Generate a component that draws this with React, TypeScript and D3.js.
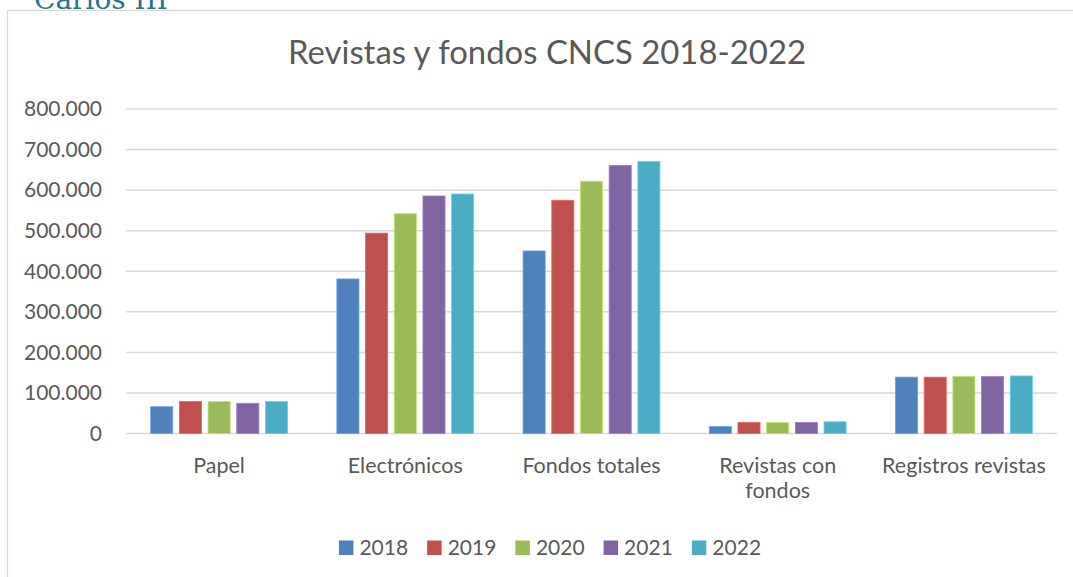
import React, { useEffect, useRef } from "react";
import * as d3 from "d3";

// Data
const categories = ["Papel", "Electrónicos", "Fondos totales", "Revistas con fondos", "Registros revistas"];
const categoryLines = [["Papel"], ["Electrónicos"], ["Fondos totales"], ["Revistas con", "fondos"], ["Registros revistas"]];
const years = ["2018", "2019", "2020", "2021", "2022"];
const values2018 = [66000, 381000, 450000, 17000, 139000];
const values2019 = [79000, 494000, 575000, 27000, 139000];
const values2020 = [79000, 542000, 622000, 27000, 140500];
const values2021 = [74500, 585500, 661000, 27000, 140500];
const values2022 = [79000, 590500, 671000, 29000, 142000];
const yTicks = [0, 100000, 200000, 300000, 400000, 500000, 600000, 700000, 800000];
const colors = ["#4F81BD", "#C0504D", "#9BBB59", "#8064A2", "#4BACC6"];

const seriesValues = [values2018, values2019, values2020, values2021, values2022];

const W = 1073;
const H = 577;
const FONT = "Lato, 'Open Sans', sans-serif";
const TEXT = "#595959";

export default function App() {
  const svgRef = useRef<SVGSVGElement>(null);

  useEffect(() => {
    const svg = d3.select(svgRef.current);
    svg.selectAll("*").remove();

    // logo text above the chart frame, cropped by the page top as in the source
    svg
      .append("text")
      .attr("x", 34)
      .attr("y", 9)
      .attr("font-family", "'DejaVu Serif', serif")
      .attr("font-size", 28)
      .attr("fill", "#2b7189")
      .text("Carlos III");

    // chart frame
    svg
      .append("rect")
      .attr("x", 7.5)
      .attr("y", 10.5)
      .attr("width", W + 20)
      .attr("height", H + 20)
      .attr("fill", "#fff")
      .attr("stroke", "#d9d9d9")
      .attr("stroke-width", 1.3);

    // title
    svg
      .append("text")
      .attr("x", 547)
      .attr("y", 64)
      .attr("text-anchor", "middle")
      .attr("font-family", FONT)
      .attr("font-size", 32.9)
      .attr("fill", TEXT)
      .text("Revistas y fondos CNCS 2018-2022");

    const left = 126;
    const right = 1057;
    const y = d3.scaleLinear().domain([0, 800000]).range([433.5, 109]);

    const x0 = d3
      .scaleBand()
      .domain(categories)
      .range([left, right])
      .paddingInner(0.265)
      .paddingOuter(0.1325);

    const x1 = d3
      .scaleBand()
      .domain(years)
      .range([0, x0.bandwidth()])
      .paddingInner(0.23);

    const fmt = (v: number) => (v === 0 ? "0" : d3.format(",")(v).replace(/,/g, "."));

    // gridlines
    svg
      .append("g")
      .selectAll("line")
      .data(yTicks)
      .enter()
      .append("line")
      .attr("x1", left)
      .attr("x2", right)
      .attr("y1", (d) => y(d))
      .attr("y2", (d) => y(d))
      .attr("stroke", "#d9d9d9")
      .attr("stroke-width", 1.5);

    // y labels
    svg
      .append("g")
      .selectAll("text")
      .data(yTicks)
      .enter()
      .append("text")
      .attr("x", 102)
      .attr("y", (d) => y(d))
      .attr("dy", "0.35em")
      .attr("text-anchor", "end")
      .attr("font-family", FONT)
      .attr("font-size", 21)
      .attr("fill", TEXT)
      .text((d) => fmt(d));

    // bars
    const groups = svg
      .append("g")
      .selectAll("g")
      .data(categories)
      .enter()
      .append("g")
      .attr("transform", (d) => `translate(${x0(d)},0)`);

    groups
      .selectAll("rect")
      .data((c, ci) => years.map((yr, si) => ({ yr, si, v: seriesValues[si][ci] })))
      .enter()
      .append("rect")
      .attr("x", (d) => x1(d.yr)!)
      .attr("width", x1.bandwidth())
      .attr("y", (d) => y(d.v))
      .attr("height", (d) => y(0) - y(d.v))
      .attr("fill", (d) => colors[d.si])
      .attr("stroke", (d) => d3.color(colors[d.si])!.brighter(0.6).formatHex())
      .attr("stroke-width", 0.8);

    // category labels
    categories.forEach((c, i) => {
      const t = svg
        .append("text")
        .attr("text-anchor", "middle")
        .attr("font-family", FONT)
        .attr("font-size", 21.5)
        .attr("fill", TEXT);
      categoryLines[i].forEach((line, li) => {
        t.append("tspan")
          .attr("x", x0(c)! + x0.bandwidth() / 2)
          .attr("y", 472.5 + li * 25.5)
          .text(line);
      });
    });

    // legend
    const legend = svg.append("g");
    let cx = 0;
    years.forEach((yr, i) => {
      const g = legend.append("g").attr("transform", `translate(${cx},0)`);
      g.append("rect")
        .attr("x", 0)
        .attr("y", 540.5)
        .attr("width", 14.5)
        .attr("height", 14.5)
        .attr("fill", colors[i]);
      const t = g
        .append("text")
        .attr("x", 20.5)
        .attr("y", 555)
        .attr("font-family", FONT)
        .attr("font-size", 21)
        .attr("fill", TEXT)
        .text(yr);
      const tw = (t.node() as SVGTextElement).getComputedTextLength();
      cx += 20.5 + tw + 19;
    });
    const totalW = cx - 19;
    legend.attr("transform", `translate(${550 - totalW / 2},0)`);
  }, []);

  return (
    <svg
      ref={svgRef}
      width={W}
      height={H}
      style={{ position: "absolute", left: 0, top: 0, background: "#fff" }}
    />
  );
}
